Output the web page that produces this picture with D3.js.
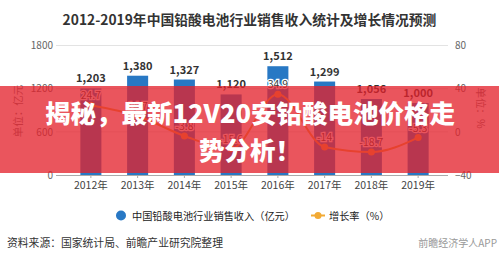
<!DOCTYPE html>
<html>
<head>
<meta charset="utf-8">
<script src="https://cdn.jsdelivr.net/npm/d3@7/dist/d3.min.js"></script>
<style>
  html, body { margin: 0; padding: 0; background: #fff; }
  svg { display: block; }
  text { font-family: "Noto Sans CJK SC", "Noto Sans", sans-serif; }
</style>
</head>
<body>
<svg id="chart" width="499" height="260"></svg>
<script>
// Revenue of China's lead-acid battery industry (100 million yuan) and growth rate (%)
const years = ["2012年", "2013年", "2014年", "2015年", "2016年", "2017年", "2018年", "2019年"];
const revenue = [1203, 1380, 1327, 1120, 1512, 1299, 1056, 1000];
const growth = [24.7, 14.7, -3.8, -15.6, 34.9, -14, -18.7, -5.3];
const leftTicks = [0, 600, 1200, 1800];
const rightTicks = [-40, 0, 40, 80];

const svg = d3.select("#chart");
const W = 499, H = 260;
const plotTop = 45.5, plotBottom = 175;
const gridLeft = 56, gridRight = 448;

const x = d3.scaleBand().domain(years).range([67.5, 441.5])
  .paddingInner(0.55).paddingOuter(0.275);
const yL = d3.scaleLinear().domain([0, 1800]).range([plotBottom, plotTop]);
const yR = d3.scaleLinear().domain([-40, 80]).range([plotBottom, plotTop]);

// title
svg.append("text")
  .attr("x", 249.5).attr("y", 19)
  .attr("text-anchor", "middle").attr("dominant-baseline", "central")
  .attr("font-size", 13.8).attr("font-weight", 700).attr("fill", "#333")
  .text("2012-2019年中国铅酸电池行业销售收入统计及增长情况预测");

// horizontal grid lines
svg.append("g").selectAll("line").data(leftTicks.filter(d => d > 0)).join("line")
  .attr("x1", gridLeft).attr("x2", gridRight)
  .attr("y1", d => yL(d)).attr("y2", d => yL(d))
  .attr("stroke", "#e3e3e3").attr("stroke-width", 1);

// left axis
const axisL = d3.axisLeft(yL).tickValues(leftTicks).tickFormat(d3.format("d"))
  .tickSize(0).tickPadding(0);
svg.append("g").attr("transform", `translate(53,0)`).call(axisL)
  .call(g => g.select(".domain").remove())
  .selectAll("text").attr("font-size", 10).attr("fill", "#666")
  .attr("font-family", "'Noto Sans', sans-serif");

// right axis
const axisR = d3.axisRight(yR).tickValues(rightTicks).tickFormat(d3.format("d"))
  .tickSize(0).tickPadding(0);
svg.append("g").attr("transform", `translate(455,0)`).call(axisR)
  .call(g => g.select(".domain").remove())
  .selectAll("text").attr("font-size", 10).attr("fill", "#666")
  .attr("font-family", "'Noto Sans', sans-serif");

// axis titles
svg.append("text")
  .attr("transform", "translate(17,111) rotate(-90)")
  .attr("text-anchor", "middle").attr("dominant-baseline", "central")
  .attr("font-size", 10.5).attr("fill", "#777").text("单位：亿元");
svg.append("text")
  .attr("transform", "translate(481,108) rotate(90)")
  .attr("text-anchor", "middle").attr("dominant-baseline", "central")
  .attr("font-size", 10.5).attr("fill", "#777").text("单位：%");

// bars
const barColor = "#2878c4";
svg.append("g").selectAll("rect").data(revenue).join("rect")
  .attr("x", (d, i) => x(years[i]))
  .attr("y", d => yL(d))
  .attr("width", x.bandwidth())
  .attr("height", d => yL(0) - yL(d))
  .attr("fill", barColor);

// x axis
const axisB = d3.axisBottom(x).tickSize(3).tickPadding(4);
svg.append("g").attr("transform", `translate(0,${plotBottom})`).call(axisB)
  .call(g => g.select(".domain").attr("d", `M${gridLeft},0.5H${gridRight}`).attr("stroke", "#aaa"))
  .call(g => g.selectAll(".tick line").attr("stroke", "#aaa"))
  .selectAll("text").attr("font-size", 10.5).attr("fill", "#444");

// bar value labels
svg.append("g").selectAll("text").data(revenue).join("text")
  .attr("x", (d, i) => x(years[i]) + x.bandwidth() / 2)
  .attr("y", d => yL(d) - 6)
  .attr("text-anchor", "middle")
  .attr("font-size", 11).attr("font-weight", 700).attr("fill", "#333")
  .attr("font-family", "'Noto Sans', sans-serif")
  .text(d => d3.format(",")(d));

// growth line
const lineColor = "#f2aa35";
const cx = (i) => x(years[i]) + x.bandwidth() / 2;
const line = d3.line().x((d, i) => cx(i)).y(d => yR(d)).curve(d3.curveMonotoneX);
svg.append("path").datum(growth)
  .attr("d", line).attr("fill", "none")
  .attr("stroke", lineColor).attr("stroke-width", 2);
svg.append("g").selectAll("circle").data(growth).join("circle")
  .attr("cx", (d, i) => cx(i)).attr("cy", d => yR(d)).attr("r", 3.5)
  .attr("fill", lineColor);

// growth labels
svg.append("g").selectAll("text").data(growth).join("text")
  .attr("x", (d, i) => cx(i))
  .attr("y", d => yR(d) - 6)
  .attr("text-anchor", "middle")
  .attr("font-size", 10.5).attr("fill", "#3a3a3a")
  .attr("stroke", "#fff").attr("stroke-width", 2.5).attr("paint-order", "stroke")
  .attr("font-family", "'Noto Sans', sans-serif")
  .text(d => d);

// legend
const legend = svg.append("g");
legend.append("circle").attr("cx", 121).attr("cy", 215.5).attr("r", 5).attr("fill", barColor);
legend.append("text").attr("x", 132).attr("y", 215.5)
  .attr("dominant-baseline", "central").attr("font-size", 10.2).attr("fill", "#222")
  .text("中国铅酸电池行业销售收入（亿元）");
legend.append("line").attr("x1", 311).attr("x2", 325).attr("y1", 215.5).attr("y2", 215.5)
  .attr("stroke", lineColor).attr("stroke-width", 2);
legend.append("circle").attr("cx", 318).attr("cy", 215.5).attr("r", 3.5).attr("fill", lineColor);
legend.append("text").attr("x", 329).attr("y", 215.5)
  .attr("dominant-baseline", "central").attr("font-size", 10.2).attr("fill", "#222")
  .text("增长率（%）");

// source note
svg.append("text").attr("x", 7).attr("y", 242)
  .attr("dominant-baseline", "central").attr("font-size", 10.8).attr("fill", "#333")
  .text("资料来源：国家统计局、前瞻产业研究院整理");
svg.append("text").attr("x", 497).attr("y", 242)
  .attr("text-anchor", "end").attr("dominant-baseline", "central")
  .attr("font-size", 10).attr("fill", "#999")
  .text("前瞻经济学人APP");

// headline banner across the chart
svg.append("rect").attr("x", 0).attr("y", 86).attr("width", W).attr("height", 87)
  .attr("fill", "rgb(228,34,44)").attr("fill-opacity", 0.77);
const banner = svg.append("g").attr("font-weight", 900).attr("fill", "#fff")
  .attr("font-size", 25.5).attr("text-anchor", "middle");
banner.append("text").attr("x", 250).attr("y", 111).attr("dominant-baseline", "central")
  .text("揭秘，最新12V20安铅酸电池价格走");
banner.append("text").attr("x", 250).attr("y", 148).attr("dominant-baseline", "central")
  .text("势分析！");
</script>
</body>
</html>
